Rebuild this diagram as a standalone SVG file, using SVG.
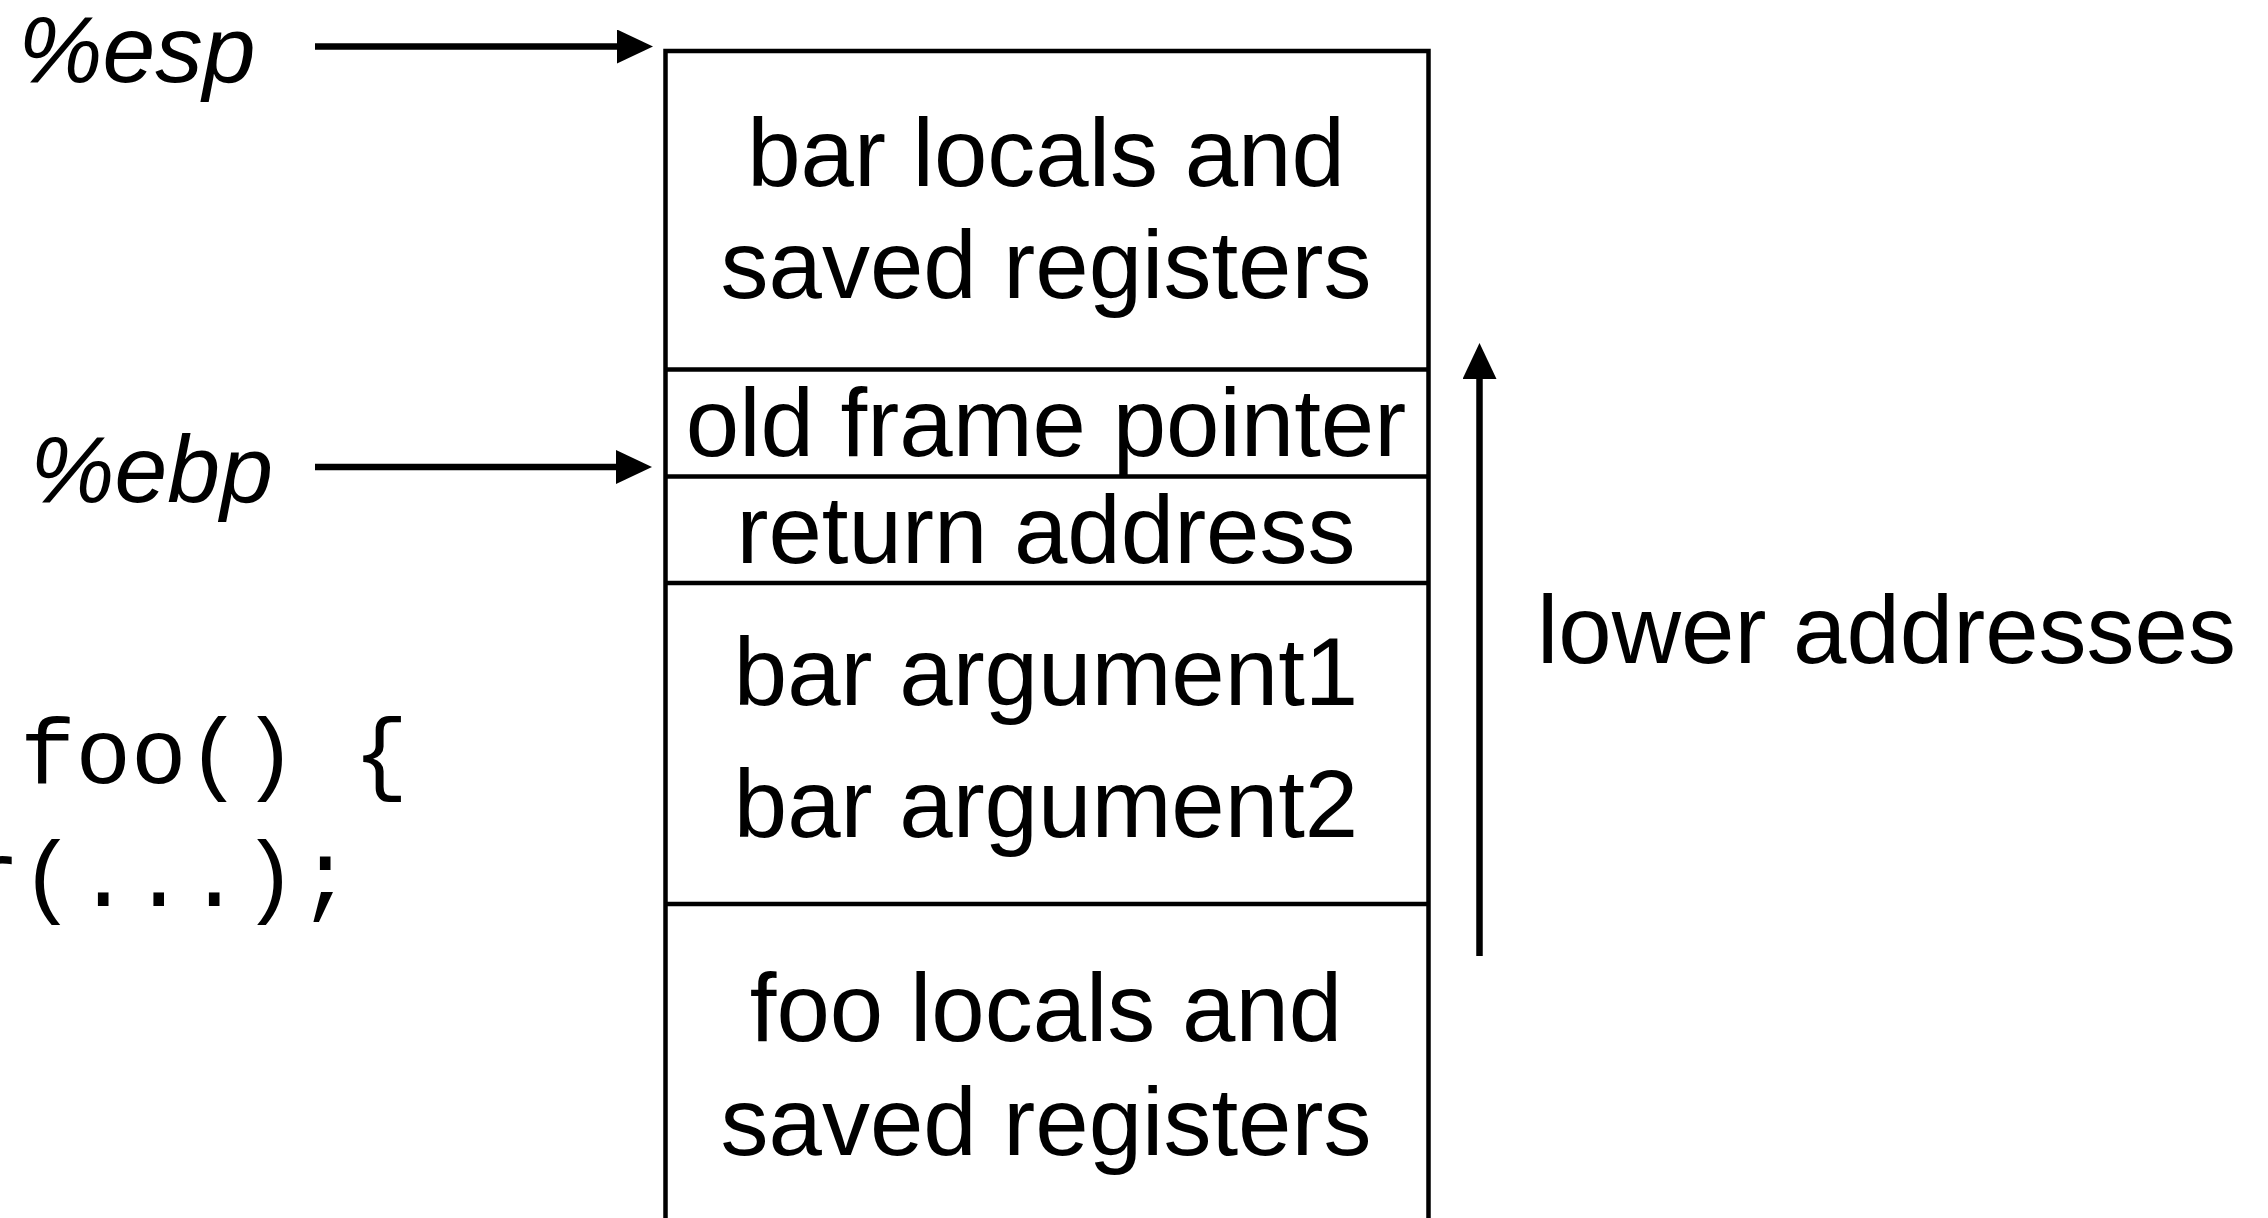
<svg xmlns="http://www.w3.org/2000/svg" width="2268" height="1218" viewBox="0 0 2268 1218">
<style>
.lbl{font-family:"Liberation Sans",Arial,Helvetica,sans-serif;font-size:96px;fill:#000;text-anchor:middle}
.reg{font-family:"Liberation Sans",Arial,Helvetica,sans-serif;font-size:95px;font-style:italic;fill:#000}
.side{font-family:"Liberation Sans",Arial,Helvetica,sans-serif;font-size:96px;fill:#000}
.code{font-family:"Liberation Mono","DejaVu Sans Mono",monospace;font-size:92.5px;fill:#000}
.cell{fill:none;stroke:#000;stroke-width:4.5}
.conn{fill:none;stroke:#000;stroke-width:6.5}
</style>
<defs>
<marker id="ah" markerUnits="userSpaceOnUse" markerWidth="38" markerHeight="36" refX="5" refY="17" orient="auto">
<path d="M0,0 L36,17 L0,34 Z" fill="#000"/>
</marker>
</defs>
<rect width="2268" height="1218" fill="#fff"/>
<g id="frame">
<path class="cell" d="M665.5,1230 L665.5,51 L1428.5,51 L1428.5,1230"/>
</g>
<g id="bar-locals">
<line class="cell" x1="665.5" y1="369.5" x2="1428.5" y2="369.5"/>
<text class="lbl" x="1046" y="186">bar locals and</text>
<text class="lbl" x="1046" y="298">saved registers</text>
</g>
<g id="old-fp">
<line class="cell" x1="665.5" y1="476.5" x2="1428.5" y2="476.5"/>
<text class="lbl" x="1046" y="456">old frame pointer</text>
</g>
<g id="ret-addr">
<line class="cell" x1="665.5" y1="583" x2="1428.5" y2="583"/>
<text class="lbl" x="1046" y="563">return address</text>
</g>
<g id="bar-args">
<line class="cell" x1="665.5" y1="904" x2="1428.5" y2="904"/>
<text class="lbl" x="1046" y="705">bar argument1</text>
<text class="lbl" x="1046" y="837">bar argument2</text>
</g>
<g id="foo-locals">
<text class="lbl" x="1046" y="1041">foo locals and</text>
<text class="lbl" x="1046" y="1155">saved registers</text>
</g>
<g id="esp">
<text class="reg" x="18" y="82">%esp</text>
</g>
<g id="ebp">
<text class="reg" x="30" y="502">%ebp</text>
</g>
<g id="code">
<text class="code" x="20" y="783">foo() {</text>
<text class="code" x="-35.5" y="906">r(...);</text>
</g>
<g id="lower">
<text class="side" x="1537" y="663">lower addresses</text>
</g>
<g id="connectors">
<line class="conn" x1="315" y1="46.5" x2="622" y2="46.5" marker-end="url(#ah)"/>
<line class="conn" x1="315" y1="467" x2="621" y2="467" marker-end="url(#ah)"/>
<line class="conn" x1="1479.5" y1="956" x2="1479.5" y2="374" marker-end="url(#ah)"/>
</g>
</svg>
